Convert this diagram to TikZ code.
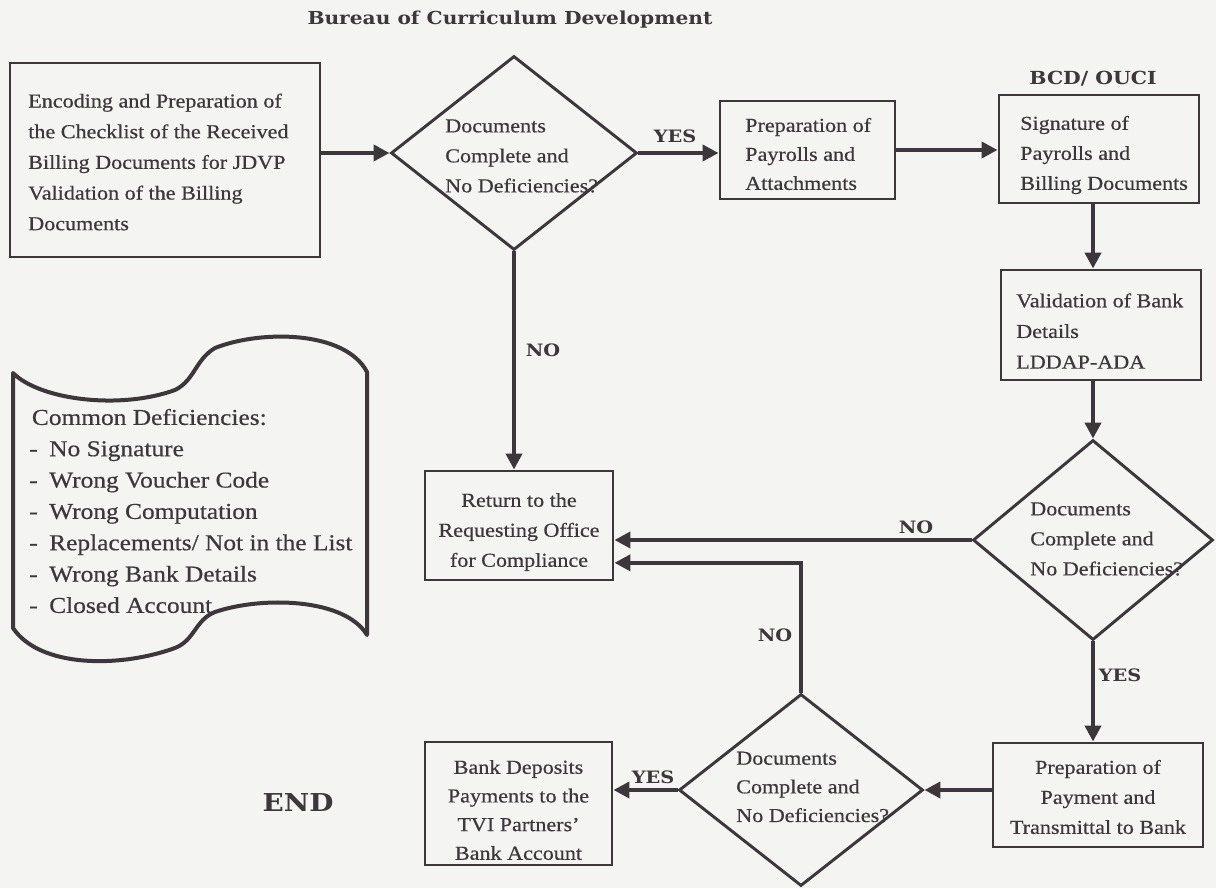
\documentclass[tikz,border=0pt]{standalone}
\usepackage{fontspec}
\setmainfont{Liberation Serif}[FakeStretch=1.12,FakeBold=0.5]
\newfontfamily\hdfont{DejaVu Serif}[FakeStretch=1.13]
\usetikzlibrary{arrows.meta,shapes.geometric}
\definecolor{ink}{HTML}{3B373A}
\definecolor{paper}{HTML}{F4F4F2}
\begin{document}
\begin{tikzpicture}[x=0.75pt,y=-0.75pt,
  box/.style={draw=ink,line width=2.2pt,rectangle,inner sep=0pt},
  dia/.style={draw=ink,line width=2.2pt,diamond,inner sep=0pt},
  txt/.style={text=ink,font=\fontsize{14.8pt}{22.5pt}\selectfont,inner sep=0pt,align=left},
  ctxt/.style={txt,align=center},
  lbl/.style={text=ink,font=\hdfont\bfseries\fontsize{12.8pt}{15pt}\selectfont,inner sep=0pt},
  arr/.style={draw=ink,line width=3.4pt,-{Triangle[length=12pt,width=12pt]}},
]
\fill[paper] (0,0) rectangle (1216,888);
\useasboundingbox (0,0) rectangle (1216,888);

% title
\node[lbl,font=\hdfont\bfseries\fontsize{13.4pt}{16pt}\selectfont] (title) at (510,20) {Bureau of Curriculum Development};

% boxes
\node[box,minimum width=232.5pt,minimum height=145.5pt] (b1) at (165,160) {};
\node[txt,anchor=west,font=\fontsize{14.8pt}{23pt}\selectfont] (b1t) at (28,162)
  {Encoding and Preparation of\\the Checklist of the Received\\Billing Documents for JDVP\\Validation of the Billing\\Documents};

\node[dia,minimum width=184.5pt,minimum height=145.5pt] (d1) at (514,153) {};
\node[txt,anchor=west] (d1t) at (445,156) {Documents\\Complete and\\No Deficiencies?};

\node[box,minimum width=131.25pt,minimum height=73.5pt] (b2) at (807.5,150) {};
\node[txt,anchor=west,font=\fontsize{14.8pt}{21.75pt}\selectfont] (b2t) at (745,154) {Preparation of\\Payrolls and\\Attachments};

\node[lbl,font=\hdfont\bfseries\fontsize{13.5pt}{16pt}\selectfont] (bcd) at (1093,79) {BCD/ OUCI};
\node[box,minimum width=150pt,minimum height=81pt] (b3) at (1099,149) {};
\node[txt,anchor=west] (b3t) at (1020,155) {Signature of\\Payrolls and\\Billing Documents};

\node[box,minimum width=150pt,minimum height=82.5pt] (b4) at (1101,325) {};
\node[txt,anchor=west,font=\fontsize{14.8pt}{23pt}\selectfont] (b4t) at (1016,331) {Validation of Bank\\Details\\LDDAP-ADA};

\node[dia,minimum width=180pt,minimum height=150pt] (d2) at (1093,540) {};
\node[txt,anchor=west] (d2t) at (1030,539) {Documents\\Complete and\\No Deficiencies?};

\node[box,minimum width=141pt,minimum height=81.75pt] (b5) at (519,525.5) {};
\node[ctxt] (b5t) at (519,532) {Return to the\\Requesting Office\\for Compliance};

\node[box,minimum width=157.5pt,minimum height=78pt] (b6) at (1098,795) {};
\node[ctxt] (b6t) at (1098,797) {Preparation of\\Payment and\\Transmittal to Bank};

\node[dia,minimum width=183pt,minimum height=144pt] (d3) at (801,790) {};
\node[txt,anchor=west,font=\fontsize{14.8pt}{21.5pt}\selectfont] (d3t) at (736,787) {Documents\\Complete and\\No Deficiencies?};

\node[box,minimum width=140.25pt,minimum height=92.25pt] (b7) at (518.5,803.5) {};
\node[ctxt,font=\fontsize{14.8pt}{21.5pt}\selectfont] (b7t) at (518.5,810) {Bank Deposits\\Payments to the\\TVI Partners'\\Bank Account};

\node[lbl,font=\hdfont\bfseries\fontsize{18.5pt}{20pt}\selectfont] (endl) at (298,802) {END};

% scroll / tape shape
\draw[ink,line width=3pt,line join=round]
  (13,373) .. controls (40,400) and (120,410) .. (175,390)
  .. controls (195,380) and (195,360) .. (215,348)
  .. controls (260,330) and (345,330) .. (367,372)
  -- (367,635)
  .. controls (345,598) and (262,596) .. (215,612)
  .. controls (195,620) and (195,640) .. (175,648)
  .. controls (120,668) and (40,668) .. (13,628)
  -- cycle;
\node[txt,anchor=west,font=\fontsize{17pt}{23.5pt}\selectfont] (defs) at (29,511)
  {\hspace*{2pt}Common Deficiencies:\\
   \makebox[15pt][l]{-}No Signature\\
   \makebox[15pt][l]{-}Wrong Voucher Code\\
   \makebox[15pt][l]{-}Wrong Computation\\
   \makebox[15pt][l]{-}Replacements/ Not in the List\\
   \makebox[15pt][l]{-}Wrong Bank Details\\
   \makebox[15pt][l]{-}Closed Account};

% connectors
\draw[arr] (b1.east |- d1.west) -- (d1.west);
\draw[arr] (d1.east) -- (b2.west |- d1.east);
\node[lbl] (yes1) at (675,136) {YES};
\draw[arr] (b2.east) -- (b2.east -| b3.west);
\draw[arr] (b3.south -| d2.north) -- (d2.north |- b4.north);
\draw[arr] (b4.south -| d2.north) -- (d2.north);
\draw[arr] (d1.south) -- (d1.south |- b5.north);
\node[lbl] (no1) at (543,350) {NO};
\draw[arr] (d2.west) -- (d2.west -| b5.east);
\node[lbl] (no2) at (916,527) {NO};
\draw[arr] (d2.south) -- (d2.south |- b6.north);
\node[lbl] (yes2) at (1120,675) {YES};
\draw[arr] (b6.west |- d3.east) -- (d3.east);
\draw[arr] (d3.west) -- (d3.west -| b7.east);
\node[lbl] (yes3) at (653,777) {YES};
\coordinate (b5low) at ([yshift=-28pt]b5.east);
\draw[arr] (d3.north) -- (d3.north |- b5low) -- (b5low);
\node[lbl] (no3) at (775,635) {NO};
\end{tikzpicture}
\end{document}
